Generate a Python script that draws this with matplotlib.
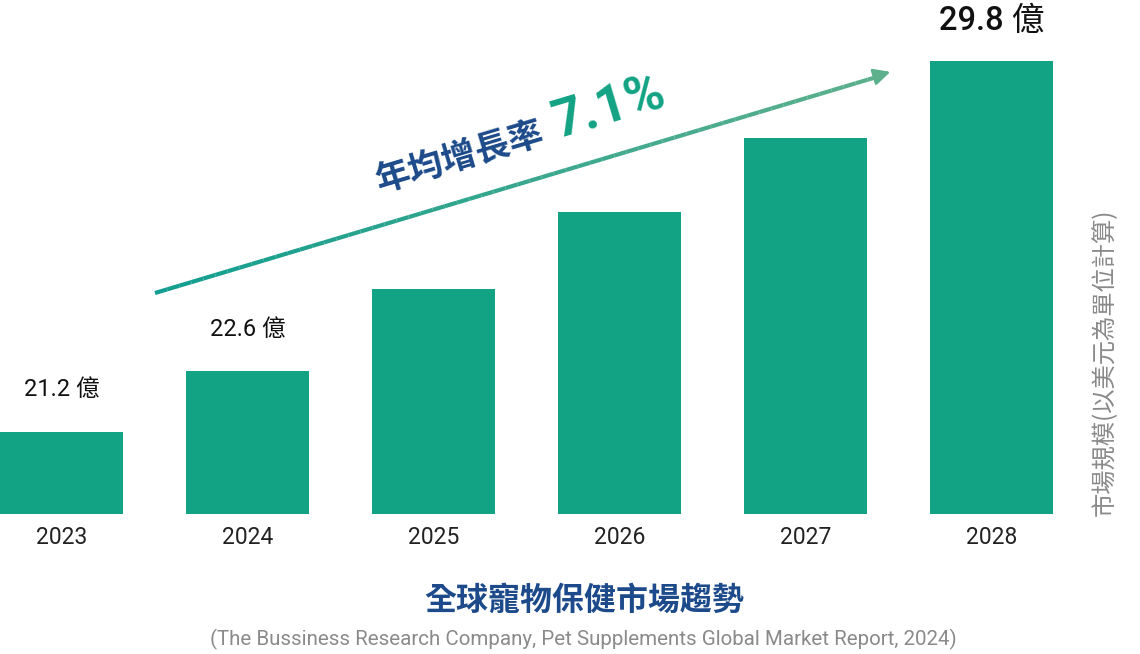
import numpy as np
import matplotlib.pyplot as plt
from matplotlib.collections import LineCollection

years = ['2023', '2024', '2025', '2026', '2027', '2028']
market_size = [21.2, 22.6, 24.5, 26.3, 28.0, 29.8]  # 億 USD
labeled = {0: '21.2 億', 1: '22.6 億', 5: '29.8 億'}

FONTS = ['Roboto', 'Noto Sans CJK TC', 'DejaVu Sans']
plt.rcParams['font.family'] = FONTS

bar_color = '#12a384'
navy = '#1c4a8a'
grey = '#8a8a8a'

fig = plt.figure(figsize=(11.4, 6.54), dpi=100)
ax = fig.add_axes([0, 0.2141, 1, 0.7859])

x = np.arange(len(years))
ax.bar(x, market_size, width=0.661, color=bar_color)
ax.set_xlim(-0.3306, -0.3306 + 1140 / 186)
ax.set_ylim(19.29, 19.29 + 514 / 43.14)
ax.axis('off')

for i, txt in labeled.items():
    big = i == 5
    ax.annotate(txt, (x[i], market_size[i]), xytext=(0, 40 if big else 42),
                textcoords='offset pixels', ha='center', va='center',
                fontsize=23.5 if big else 17, fontweight='medium' if big else 'normal',
                color='#111111')

for i, y in enumerate(years):
    fig.text((x[i] + 0.3306) * 186 / 1140, 1 - 538 / 654, y, ha='center', va='center',
             fontsize=16.5, color='#222222')

# gradient arrow
x0, y0, x1, y1 = 155, 293, 880, 76
n = 60
px = np.linspace(x0, x1, n + 1)
py = np.linspace(y0, y1, n + 1)
segs = [[(px[k] / 1140, 1 - py[k] / 654), (px[k + 1] / 1140, 1 - py[k + 1] / 654)] for k in range(n)]
c0 = np.array([0x12, 0x9e, 0x90]) / 255
c1 = np.array([0x5c, 0xb0, 0x8c]) / 255
cols = [c0 + (c1 - c0) * t for t in np.linspace(0, 1, n)]
lc = LineCollection(segs, colors=cols, linewidths=3, transform=fig.transFigure)
fig.add_artist(lc)
ax.annotate('', xy=(893 / 1140, 1 - 71 / 654), xytext=(872 / 1140, 1 - 77.5 / 654),
            xycoords='figure fraction', textcoords='figure fraction',
            arrowprops=dict(arrowstyle='-|>,head_length=1.0,head_width=0.5', color=c1, lw=2))

angle = np.degrees(np.arctan2(221, 738))
fig.text(460 / 1140, 1 - 158 / 654, '年均增長率', rotation=angle, rotation_mode='anchor',
         ha='center', va='center', fontsize=25, fontweight='bold', color=navy,
         family=['Noto Sans CJK TC'])
fig.text(609 / 1140, 1 - 108 / 654, '7.1%', rotation=angle, rotation_mode='anchor',
         ha='center', va='center', fontsize=38, fontweight='bold', color=bar_color)

fig.text(1105 / 1140, 1 - 362 / 654, '市場規模(以美元為單位計算)', rotation=90,
         ha='center', va='center', fontsize=17.5, color=grey,
         family=['Noto Sans CJK TC'], fontweight='light')

fig.text(584 / 1140, 1 - 601 / 654, '全球寵物保健市場趨勢', ha='center', va='center',
         fontsize=23, fontweight='bold', color=navy, family=['Noto Sans CJK TC'])
fig.text(583 / 1140, 1 - 639 / 654,
         '(The Bussiness Research Company, Pet Supplements Global Market Report, 2024)',
         ha='center', va='center', fontsize=14.8, color=grey)

fig.savefig('out.png', dpi=100)
